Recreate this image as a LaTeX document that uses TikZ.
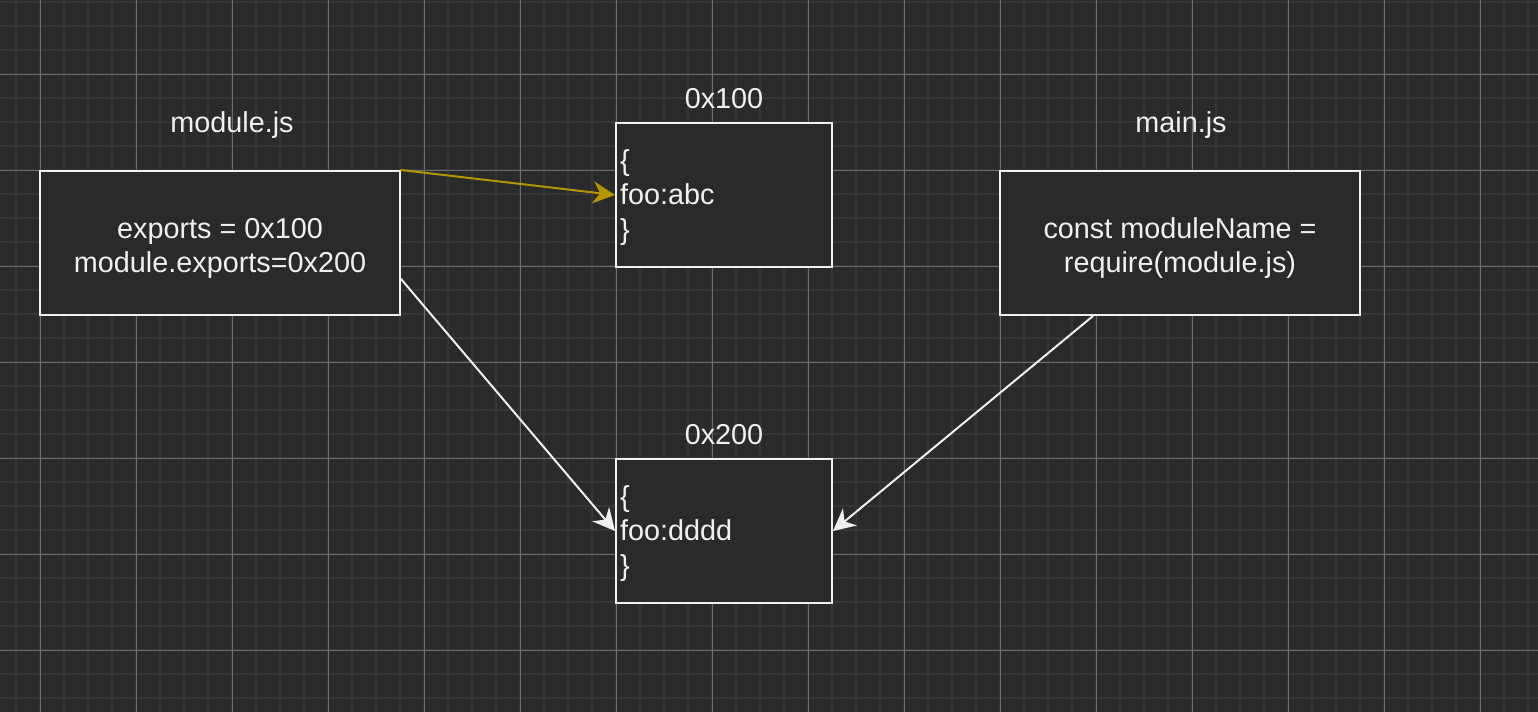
\documentclass[tikz,border=0pt]{standalone}
\usepackage{fontspec}
\setmainfont{Liberation Sans}
\usetikzlibrary{arrows.meta}
\definecolor{canvas}{HTML}{2A2A2A}
\definecolor{gridminor}{HTML}{363636}
\definecolor{gridmajor}{HTML}{6E6E6E}
\definecolor{ink}{HTML}{F0F0F0}
\definecolor{gold}{HTML}{B59600}
\newcommand\lineup[1]{\rule{0pt}{#1}}
\begin{document}
\begin{tikzpicture}[x=0.5pt,y=-0.5pt,line cap=round,
    box/.style={draw=ink,line width=1pt,fill=canvas,text=ink,minimum width=180pt,minimum height=72pt,
      inner sep=0pt,align=center,font=\fontsize{14.4}{17.28}\selectfont},
    memcell/.style={box,minimum width=108pt,text width=104pt,align=left},
    caption/.style={text=ink,anchor=base,inner sep=0pt,font=\fontsize{14.4}{17.28}\selectfont},
    link/.style={draw=ink,line width=1pt,-{Stealth[length=11pt,width=11pt,inset=3.5pt]}}]
    \useasboundingbox (0,0) rectangle (1538,712);
    \fill[canvas] (0,0) rectangle (1538,712);
    % grid
    \foreach \gx in {16,40,...,1528}
      \draw[gridminor,line width=0.8pt,line cap=butt] (\gx,0) -- (\gx,712);
    \foreach \gy in {2,26,...,698}
      \draw[gridminor,line width=0.8pt,line cap=butt] (0,\gy) -- (1538,\gy);
    \foreach \gx in {40,136,...,1480}
      \draw[gridmajor,line width=0.5pt,line cap=butt] (\gx,0) -- (\gx,712);
    \foreach \gy in {74,170,...,650}
      \draw[gridmajor,line width=0.5pt,line cap=butt] (0,\gy) -- (1538,\gy);
    % boxes
    \node[box] (module) at (220,243) {\lineup{15.5pt}exports = 0x100\\module.exports=0x200};
    \node[memcell] (first) at (724,195) {\lineup{12.8pt}\{\\foo:abc\\\}};
    \node[memcell] (second) at (724,531) {\lineup{12.8pt}\{\\foo:dddd\\\}};
    \node[box] (main) at (1180,243) {\lineup{15.5pt}const moduleName =\\require(module.js)};
    % captions
    \node[caption] (modcap) at (232,132) {module.js};
    \node[caption] (firstcap) at (724,108) {0x100};
    \node[caption] (secondcap) at (724,444) {0x200};
    \node[caption] (maincap) at (1181,132) {main.js};
    % references
    \draw[link,draw=gold] (module.north east) -- (first.west);
    \draw[link] ([yshift=-18pt]module.east) -- (second.west);
    \draw[link] ([xshift=-43.5pt]main.south) -- (second.east);
\end{tikzpicture}
\end{document}
